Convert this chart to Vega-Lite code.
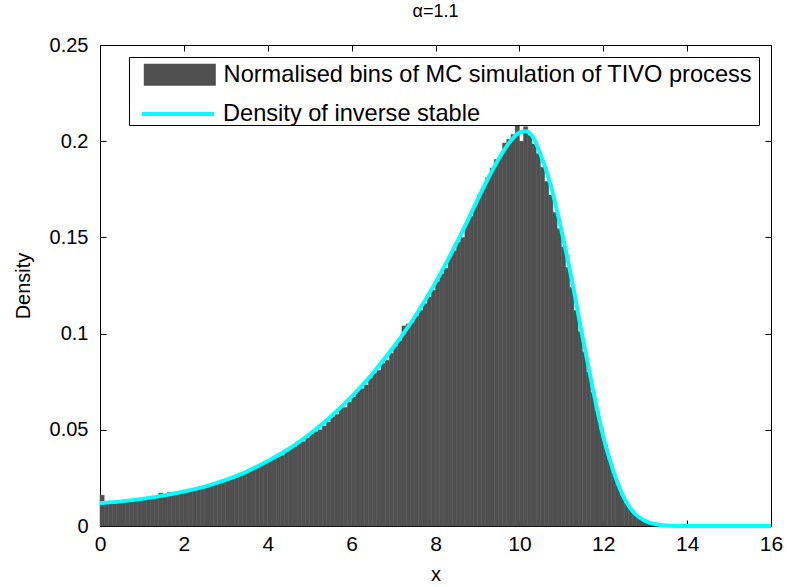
{
  "$schema": "https://vega.github.io/schema/vega-lite/v6.json",
  "width": 671,
  "height": 481,
  "autosize": "none",
  "padding": {"left": 100, "top": 45, "right": 16, "bottom": 61},
  "background": "white",
  "title": {"text": "α=1.1", "fontSize": 18, "font": "Liberation Sans", "fontWeight": "normal", "color": "black", "offset": 14},
  "config": {
    "view": {"stroke": "black", "strokeWidth": 1},
    "font": "Liberation Sans",
    "axis": {"grid": false, "domain": false, "tickColor": "black", "tickSize": -6, "labelColor": "black", "titleColor": "black", "labelFont": "Liberation Sans", "titleFont": "Liberation Sans", "titleFontWeight": "normal"},
    "legend": {"labelFontSize": 23.6, "labelFont": "Liberation Sans", "labelColor": "black", "labelLimit": 800, "symbolSize": 400, "symbolOpacity": 1, "orient": "none"}
  },
  "datasets": {
    "hist": [
      {"x0":0.0,"x1":0.1,"density":0.0160},{"x0":0.1,"x1":0.2,"density":0.0121},{"x0":0.2,"x1":0.3,"density":0.0122},{"x0":0.3,"x1":0.4,"density":0.0126},{"x0":0.4,"x1":0.5,"density":0.0124},
      {"x0":0.5,"x1":0.6,"density":0.0130},{"x0":0.6,"x1":0.7,"density":0.0131},{"x0":0.7,"x1":0.8,"density":0.0129},{"x0":0.8,"x1":0.9,"density":0.0136},{"x0":0.9,"x1":1.0,"density":0.0138},
      {"x0":1.0,"x1":1.1,"density":0.0144},{"x0":1.1,"x1":1.2,"density":0.0150},{"x0":1.2,"x1":1.3,"density":0.0147},{"x0":1.3,"x1":1.4,"density":0.0152},{"x0":1.4,"x1":1.5,"density":0.0171},
      {"x0":1.5,"x1":1.6,"density":0.0160},{"x0":1.6,"x1":1.7,"density":0.0175},{"x0":1.7,"x1":1.8,"density":0.0165},{"x0":1.8,"x1":1.9,"density":0.0172},{"x0":1.9,"x1":2.0,"density":0.0176},
      {"x0":2.0,"x1":2.1,"density":0.0182},{"x0":2.1,"x1":2.2,"density":0.0185},{"x0":2.2,"x1":2.3,"density":0.0189},{"x0":2.3,"x1":2.4,"density":0.0198},{"x0":2.4,"x1":2.5,"density":0.0197},
      {"x0":2.5,"x1":2.6,"density":0.0208},{"x0":2.6,"x1":2.7,"density":0.0215},{"x0":2.7,"x1":2.8,"density":0.0213},{"x0":2.8,"x1":2.9,"density":0.0225},{"x0":2.9,"x1":3.0,"density":0.0231},
      {"x0":3.0,"x1":3.1,"density":0.0241},{"x0":3.1,"x1":3.2,"density":0.0247},{"x0":3.2,"x1":3.3,"density":0.0254},{"x0":3.3,"x1":3.4,"density":0.0274},{"x0":3.4,"x1":3.5,"density":0.0273},
      {"x0":3.5,"x1":3.6,"density":0.0286},{"x0":3.6,"x1":3.7,"density":0.0294},{"x0":3.7,"x1":3.8,"density":0.0301},{"x0":3.8,"x1":3.9,"density":0.0317},{"x0":3.9,"x1":4.0,"density":0.0327},
      {"x0":4.0,"x1":4.1,"density":0.0340},{"x0":4.1,"x1":4.2,"density":0.0352},{"x0":4.2,"x1":4.3,"density":0.0360},{"x0":4.3,"x1":4.4,"density":0.0366},{"x0":4.4,"x1":4.5,"density":0.0388},
      {"x0":4.5,"x1":4.6,"density":0.0402},{"x0":4.6,"x1":4.7,"density":0.0411},{"x0":4.7,"x1":4.8,"density":0.0434},{"x0":4.8,"x1":4.9,"density":0.0438},{"x0":4.9,"x1":5.0,"density":0.0458},
      {"x0":5.0,"x1":5.1,"density":0.0478},{"x0":5.1,"x1":5.2,"density":0.0490},{"x0":5.2,"x1":5.3,"density":0.0500},{"x0":5.3,"x1":5.4,"density":0.0520},{"x0":5.4,"x1":5.5,"density":0.0540},
      {"x0":5.5,"x1":5.6,"density":0.0567},{"x0":5.6,"x1":5.7,"density":0.0580},{"x0":5.7,"x1":5.8,"density":0.0614},{"x0":5.8,"x1":5.9,"density":0.0616},{"x0":5.9,"x1":6.0,"density":0.0644},
      {"x0":6.0,"x1":6.1,"density":0.0671},{"x0":6.1,"x1":6.2,"density":0.0703},{"x0":6.2,"x1":6.3,"density":0.0713},{"x0":6.3,"x1":6.4,"density":0.0733},{"x0":6.4,"x1":6.5,"density":0.0768},
      {"x0":6.5,"x1":6.6,"density":0.0793},{"x0":6.6,"x1":6.7,"density":0.0808},{"x0":6.7,"x1":6.8,"density":0.0845},{"x0":6.8,"x1":6.9,"density":0.0862},{"x0":6.9,"x1":7.0,"density":0.0898},
      {"x0":7.0,"x1":7.1,"density":0.0933},{"x0":7.1,"x1":7.2,"density":0.0962},{"x0":7.2,"x1":7.3,"density":0.1040},{"x0":7.3,"x1":7.4,"density":0.1050},{"x0":7.4,"x1":7.5,"density":0.1058},
      {"x0":7.5,"x1":7.6,"density":0.1090},{"x0":7.6,"x1":7.7,"density":0.1120},{"x0":7.7,"x1":7.8,"density":0.1155},{"x0":7.8,"x1":7.9,"density":0.1190},{"x0":7.9,"x1":8.0,"density":0.1225},
      {"x0":8.0,"x1":8.1,"density":0.1270},{"x0":8.1,"x1":8.2,"density":0.1310},{"x0":8.2,"x1":8.3,"density":0.1340},{"x0":8.3,"x1":8.4,"density":0.1400},{"x0":8.4,"x1":8.5,"density":0.1430},
      {"x0":8.5,"x1":8.6,"density":0.1475},{"x0":8.6,"x1":8.7,"density":0.1500},{"x0":8.7,"x1":8.8,"density":0.1575},{"x0":8.8,"x1":8.9,"density":0.1610},{"x0":8.9,"x1":9.0,"density":0.1665},
      {"x0":9.0,"x1":9.1,"density":0.1720},{"x0":9.1,"x1":9.2,"density":0.1760},{"x0":9.2,"x1":9.3,"density":0.1810},{"x0":9.3,"x1":9.4,"density":0.1860},{"x0":9.4,"x1":9.5,"density":0.1905},
      {"x0":9.5,"x1":9.6,"density":0.1920},{"x0":9.6,"x1":9.7,"density":0.1990},{"x0":9.7,"x1":9.8,"density":0.2010},{"x0":9.8,"x1":9.9,"density":0.2035},{"x0":9.9,"x1":10.0,"density":0.2085},
      {"x0":10.0,"x1":10.1,"density":0.2000},{"x0":10.1,"x1":10.2,"density":0.2075},{"x0":10.2,"x1":10.3,"density":0.2030},{"x0":10.3,"x1":10.4,"density":0.1985},{"x0":10.4,"x1":10.5,"density":0.1935},
      {"x0":10.5,"x1":10.6,"density":0.1865},{"x0":10.6,"x1":10.7,"density":0.1790},{"x0":10.7,"x1":10.8,"density":0.1720},{"x0":10.8,"x1":10.9,"density":0.1630},{"x0":10.9,"x1":11.0,"density":0.1545},
      {"x0":11.0,"x1":11.1,"density":0.1450},{"x0":11.1,"x1":11.2,"density":0.1345},{"x0":11.2,"x1":11.3,"density":0.1240},{"x0":11.3,"x1":11.4,"density":0.1120},{"x0":11.4,"x1":11.5,"density":0.1010},
      {"x0":11.5,"x1":11.6,"density":0.0905},{"x0":11.6,"x1":11.7,"density":0.0800},{"x0":11.7,"x1":11.8,"density":0.0695},{"x0":11.8,"x1":11.9,"density":0.0600},{"x0":11.9,"x1":12.0,"density":0.0505},
      {"x0":12.0,"x1":12.1,"density":0.0420},{"x0":12.1,"x1":12.2,"density":0.0345},{"x0":12.2,"x1":12.3,"density":0.0275},{"x0":12.3,"x1":12.4,"density":0.0212},{"x0":12.4,"x1":12.5,"density":0.0160},
      {"x0":12.5,"x1":12.6,"density":0.0118},{"x0":12.6,"x1":12.7,"density":0.0085},{"x0":12.7,"x1":12.8,"density":0.0060},{"x0":12.8,"x1":12.9,"density":0.0042},{"x0":12.9,"x1":13.0,"density":0.0029},
      {"x0":13.0,"x1":13.1,"density":0.0019},{"x0":13.1,"x1":13.2,"density":0.0012},{"x0":13.2,"x1":13.3,"density":0.0008},{"x0":13.3,"x1":13.4,"density":0.0005},{"x0":13.4,"x1":13.5,"density":0.0003},
      {"x0":13.5,"x1":13.6,"density":0.0002},{"x0":13.6,"x1":13.7,"density":0.0001}
    ],
    "curve": [
      {"x":0,"density":0.0118},{"x":0.5,"density":0.0128},{"x":1,"density":0.0141},{"x":1.5,"density":0.0158},{"x":2,"density":0.0179},
      {"x":2.5,"density":0.0205},{"x":3,"density":0.0240},{"x":3.5,"density":0.0283},{"x":4,"density":0.0338},{"x":4.5,"density":0.0400},
      {"x":5,"density":0.0478},{"x":5.5,"density":0.0568},{"x":6,"density":0.0672},{"x":6.5,"density":0.0793},{"x":7,"density":0.0930},
      {"x":7.5,"density":0.1085},{"x":8,"density":0.1265},{"x":8.25,"density":0.1365},{"x":8.5,"density":0.1470},{"x":8.75,"density":0.1580},
      {"x":9,"density":0.1695},{"x":9.25,"density":0.1805},{"x":9.5,"density":0.1905},{"x":9.75,"density":0.1990},{"x":10,"density":0.2045},
      {"x":10.15,"density":0.2052},{"x":10.3,"density":0.2030},{"x":10.5,"density":0.1935},{"x":10.75,"density":0.1770},{"x":11,"density":0.1540},
      {"x":11.25,"density":0.1280},{"x":11.5,"density":0.0990},{"x":11.75,"density":0.0715},{"x":12,"density":0.0465},{"x":12.25,"density":0.0280},
      {"x":12.5,"density":0.0145},{"x":12.75,"density":0.0065},{"x":13,"density":0.0026},{"x":13.25,"density":0.0009},{"x":13.5,"density":0.0003},
      {"x":14,"density":0.0},{"x":15,"density":0.0},{"x":16,"density":0.0}
    ]
  },
  "layer": [
    {
      "data": {"name": "hist"},
      "mark": {"type": "rect", "stroke": "#505050", "strokeWidth": 0.5},
      "encoding": {
        "x": {"field": "x0", "type": "quantitative", "scale": {"domain": [0, 16], "nice": false},
              "axis": {"orient": "bottom", "title": "x", "titleFontSize": 20, "labelFontSize": 21, "values": [0,2,4,6,8,10,12,14,16], "labelPadding": 13, "titlePadding": 10, "labelFlush": false}},
        "x2": {"field": "x1"},
        "y": {"field": "density", "type": "quantitative", "scale": {"domain": [0, 0.25], "nice": false},
              "axis": {"orient": "left", "title": "Density", "titleFontSize": 20, "labelFontSize": 20, "values": [0,0.05,0.1,0.15,0.2,0.25], "format": "~g", "labelPadding": 18, "titlePadding": 16, "labelFlush": false}},
        "y2": {"datum": 0},
        "fill": {"datum": "Normalised bins of MC simulation of TIVO process", "type": "nominal",
                 "scale": {"domain": ["Normalised bins of MC simulation of TIVO process"], "range": ["#505050"]},
                 "legend": {
                   "orient": "none", "legendX": 29, "legendY": 12,
                   "title": "\u00a0", "titleOrient": "bottom", "titleFontSize": 23.6, "titlePadding": 9, "titleAnchor": "start",
                   "strokeColor": "black", "fillColor": "white", "padding": 6,
                   "symbolType": "M-0.3,-1.1H6.9V1.1H-0.3Z", "symbolStrokeWidth": 0, "labelOffset": 65
                 }}
      }
    },
    {
      "data": {"name": "curve"},
      "mark": {"type": "line", "strokeWidth": 4, "interpolate": "monotone"},
      "encoding": {
        "x": {"field": "x", "type": "quantitative", "axis": {"orient": "top", "title": null, "labels": false, "values": [0,2,4,6,8,10,12,14,16]}},
        "y": {"field": "density", "type": "quantitative", "axis": {"orient": "right", "title": null, "labels": false, "values": [0,0.05,0.1,0.15,0.2,0.25]}},
        "stroke": {"datum": "Density of inverse stable", "type": "nominal",
                   "scale": {"domain": ["Density of inverse stable"], "range": ["#00ffff"]},
                   "legend": {
                     "orient": "none", "legendX": 29, "legendY": 56, "title": null, "padding": 1,
                     "symbolType": "M0,0H7.2", "symbolStrokeWidth": 4, "labelOffset": 69
                   }}
      }
    }
  ],
  "resolve": {"axis": {"x": "independent", "y": "independent"}}
}
